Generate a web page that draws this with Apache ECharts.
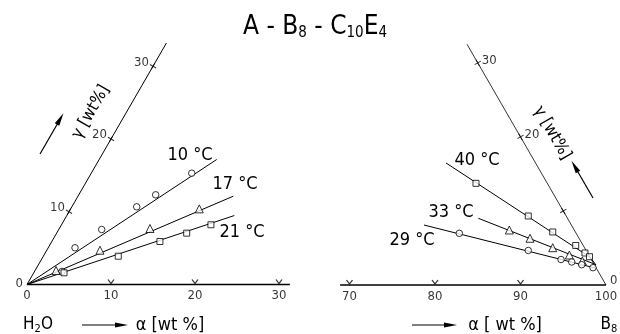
<!DOCTYPE html>
<html>
<head>
<meta charset="utf-8">
<script src="https://cdn.jsdelivr.net/npm/echarts@6/dist/echarts.min.js"></script>
<style>
  html, body { margin: 0; padding: 0; background: #fff; }
  #chart { width: 620px; height: 334px; }
</style>
</head>
<body>
<div id="chart"></div>
<script>
const pts10 = [[3.27, 1.79], [3.19, 5.05], [5.11, 7.56], [7.72, 10.68], [9.15, 12.33], [11.96, 15.30]];
const line10 = [[0, 0], [13.99, 17.18]];
const pts17 = [[2.49, 1.93], [6.33, 4.71], [10.79, 7.70], [15.31, 10.40]];
const line17 = [[0, 0], [18.49, 12.14]];
const pts21 = [[3.60, 1.61], [8.92, 3.89], [12.87, 5.91], [15.48, 7.06], [17.79, 8.21]];
const line21 = [[0, 0], [19.94, 9.48]];

const pts40 = [[77.93, 13.73], [86.25, 9.32], [90.19, 7.16], [93.79, 5.34], [95.38, 4.32], [96.16, 3.82]];
const line40 = [[73.05, 16.48], [96.33, 3.71], [97.48, 2.70]];
const pts33 = [[84.98, 7.43], [87.96, 6.31], [91.25, 5.04], [93.69, 4.05], [95.61, 3.24]];
const line33 = [[80.56, 9.01], [97.39, 2.77]];
const pts29 = [[79.35, 6.98], [88.58, 4.66], [93.02, 3.44], [94.44, 3.11], [95.79, 2.74], [97.31, 2.34]];
const line29 = [[74.66, 8.10], [97.56, 2.30]];

// axes
const alphaLeft = [0, 10, 20, 30];
const alphaRight = [70, 80, 90, 100];
const gammaTicks = [10, 20, 30];
const gammaLabelsLeft = [10, 20, 30];
const gammaLabelsRight = [20, 30];
const alphaSpanLeft = [0, 31.3];
const alphaSpanRight = [68.9, 100];
const gammaTopLeft = 33.2;
const gammaTopRight = 32.5;

const S3 = Math.sqrt(3) / 2;
const toXY = p => [p[0] + p[1] / 2, p[1] * S3];

const FONT = "'DejaVu Sans Condensed', 'Liberation Sans Narrow', 'Liberation Sans', sans-serif";

function line(idx, pts, w) {
  return {
    type: 'line', xAxisIndex: idx, yAxisIndex: idx, data: pts.map(toXY),
    symbol: 'none', silent: true, lineStyle: { color: '#000', width: w || 1 }
  };
}
function marks(idx, pts, sym, size) {
  return {
    type: 'scatter', xAxisIndex: idx, yAxisIndex: idx, data: pts.map(toXY),
    symbol: sym, symbolSize: size, z: 5,
    itemStyle: { color: '#fff', borderColor: '#000', borderWidth: 1 }
  };
}
function ticks(idx, pts, sym, size, rot, offset) {
  return {
    type: 'scatter', xAxisIndex: idx, yAxisIndex: idx, data: pts.map(toXY),
    symbol: sym, symbolSize: size, symbolRotate: rot || 0, symbolOffset: offset || [0, 0],
    itemStyle: { color: 'none', borderColor: '#000', borderWidth: 1 }
  };
}
function labels(idx, pts, texts, pos, dist, offset) {
  return {
    type: 'scatter', xAxisIndex: idx, yAxisIndex: idx, symbolSize: 0,
    data: pts.map((p, i) => ({ value: toXY(p), name: String(texts[i]) })),
    label: {
      show: true, position: pos, distance: dist, offset: offset || [0, 0],
      formatter: '{b}', color: '#000', fontSize: 13, fontFamily: FONT
    }
  };
}
function arrow(x, y, len, ang) {
  return {
    type: 'group', x: x, y: y, rotation: ang,
    children: [
      { type: 'line', shape: { x1: 0, y1: 0, x2: len - 8, y2: 0 }, style: { stroke: '#000', lineWidth: 1.2 } },
      { type: 'polygon', shape: { points: [[len - 13, -2.6], [len, 0], [len - 13, 2.6]] }, style: { fill: '#000' } }
    ]
  };
}
function txt(x, y, text, size, rot, rich) {
  return {
    type: 'text', x: x, y: y, rotation: rot || 0,
    style: {
      text: text, fill: '#000', fontSize: size, fontFamily: FONT,
      align: 'center', verticalAlign: 'middle', rich: rich
    }
  };
}

const leftEdge = [[0, 0], [0, gammaTopLeft]];
const rightEdge = [[100, 0], [100 - gammaTopRight, gammaTopRight]];
const sub = { n: { fontSize: 17, fontFamily: FONT }, s: { fontSize: 11, fontFamily: FONT, padding: [9, 0, 0, 0] } };
const titleRich = { n: { fontSize: 26, fontFamily: FONT }, s: { fontSize: 15, fontFamily: FONT, padding: [13, 0, 0, 0] } };

const chart = echarts.init(document.getElementById('chart'));
chart.setOption({
  animation: false,
  backgroundColor: '#fff',
  grid: [
    { left: 0, top: 0, width: 310, height: 334 },
    { left: 310, top: 0, width: 310, height: 334 }
  ],
  xAxis: [
    { type: 'value', gridIndex: 0, show: false, min: -27 / 8.4, max: 283 / 8.4 },
    { type: 'value', gridIndex: 1, show: false, min: 100 - 296 / 8.55, max: 100 + 14 / 8.55 }
  ],
  yAxis: [
    { type: 'value', gridIndex: 0, show: false, min: -49.5 / 8.4, max: 284.5 / 8.4 },
    { type: 'value', gridIndex: 1, show: false, min: -49 / 8.55, max: 285 / 8.55 }
  ],
  graphic: [
    txt(315, 27, '{n|A - B}{s|8}{n| - C}{s|10}{n|E}{s|4}', 26, 0, titleRich),
    txt(190, 155, '10 °C', 18), txt(235, 184, '17 °C', 18), txt(242, 232, '21 °C', 18),
    txt(477, 160, '40 °C', 18), txt(451, 212, '33 °C', 18), txt(412, 240, '29 °C', 18),
    txt(91, 112, 'γ [wt%]', 17, Math.PI / 3),
    txt(552, 133, 'γ [wt%]', 17, -Math.PI / 3),
    txt(38, 325, '{n|H}{s|2}{n|O}', 17, 0, sub),
    txt(609, 325, '{n|B}{s|8}', 17, 0, sub),
    txt(170, 325, 'α [wt %]', 18),
    txt(505, 325, 'α [ wt %]', 18),
    arrow(82, 325, 46, 0),
    arrow(412, 325, 45, 0),
    arrow(40, 154, 47, Math.PI / 3),
    arrow(593, 198, 43, 2 * Math.PI / 3)
  ],
  series: [
    // frame
    line(0, alphaSpanLeft.map(a => [a, 0]), 1.6),
    line(0, leftEdge, 1),
    line(1, alphaSpanRight.map(a => [a, 0]), 1.6),
    line(1, rightEdge, 0.8),
    ticks(0, alphaLeft.slice(1).map(a => [a, 0]), 'path://M0,0L3,4L6,0', [6, 4], 0, [0, -3]),
    ticks(1, alphaRight.slice(0, 3).map(a => [a, 0]), 'path://M0,0L3,4L6,0', [6, 4], 0, [0, -3]),
    ticks(0, gammaTicks.map(g => [0, g]), 'path://M0,0L6,6M0,6L6,0', 5, 15),
    ticks(1, gammaTicks.map(g => [100 - g, g]), 'path://M0,0L6,6M0,6L6,0', 5, -15),
    labels(0, alphaLeft.map(a => [a, 0]), alphaLeft, 'bottom', 5),
    labels(1, alphaRight.map(a => [a, 0]), alphaRight, 'bottom', 5),
    labels(0, [[0, 0]], [0], 'left', 4, [0, -1]),
    labels(1, [[100, 0]], [0], 'right', 4, [0, -4]),
    labels(0, gammaLabelsLeft.map(g => [0, g]), gammaLabelsLeft, 'left', 4, [0, -4]),
    labels(1, gammaLabelsRight.map(g => [100 - g, g]), gammaLabelsRight, 'right', 4, [0, -2]),
    // data
    line(0, line10), line(0, line17), line(0, line21),
    line(1, line40), line(1, line33), line(1, line29),
    marks(0, pts10, 'circle', 6.5),
    marks(0, pts17, 'triangle', 8),
    marks(0, pts21, 'rect', 6),
    marks(1, pts40, 'rect', 6),
    marks(1, pts33, 'triangle', 8),
    marks(1, pts29, 'circle', 6.5)
  ]
});
</script>
</body>
</html>
